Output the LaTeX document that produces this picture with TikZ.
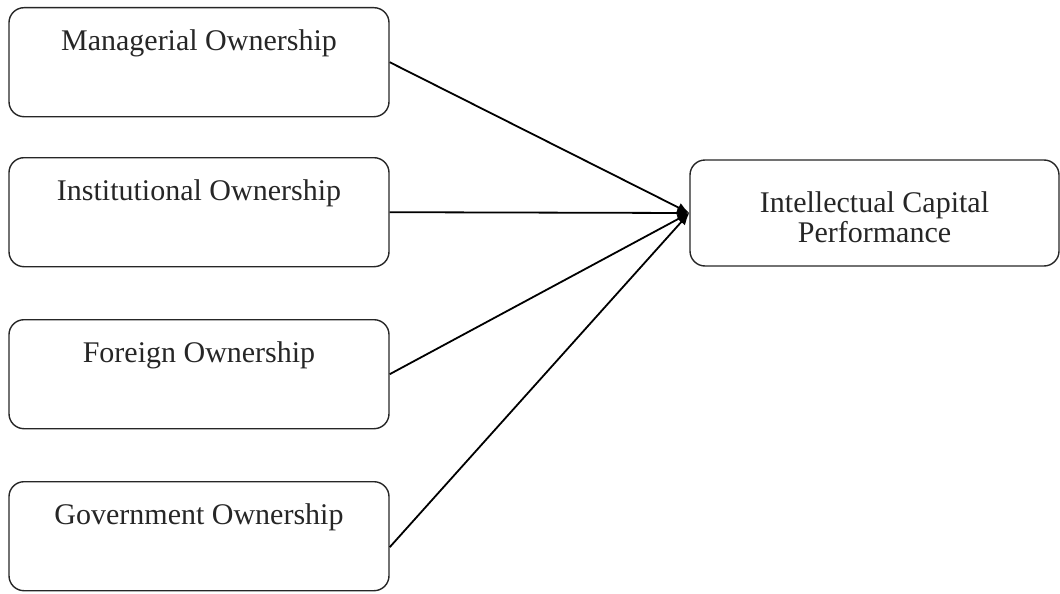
\documentclass[tikz,border=0pt]{standalone}
\usepackage{fontspec}
\setmainfont{Liberation Serif}
\usetikzlibrary{arrows.meta, positioning}

\begin{document}
\begin{tikzpicture}[>=Latex, x=1pt, y=-1pt, font=\fontsize{30}{30}\selectfont,
          own/.style={rectangle, rounded corners=15pt, draw=black!85, line width=1.4pt, minimum width=380pt, inner sep=0pt, text height=43pt, text depth=66pt, anchor=north, text=black!85},
          dv/.style={rectangle, rounded corners=15pt, draw=black!85, line width=1.4pt, minimum width=369pt, minimum height=106pt, inner sep=0pt, align=center, text=black!85},
          ar/.style={-{Latex[length=12pt, width=10pt]}, line width=1.8pt}]
        \useasboundingbox (0,0) rectangle (1060,594);
        \foreach \nm/\ty/\txt in {mo/7/Managerial Ownership, io/157/Institutional Ownership, fo/319/Foreign Ownership, go/481/Government Ownership}{ \node[own] (\nm) at (199,\ty) {\txt}; }
        \node[dv] (icp) at (874.5,213) {\rule{0pt}{29pt}Intellectual Capital\\Performance};
        \draw[ar] (mo.east) -- (icp.west); \draw[ar] (io.east) -- (icp.west);
        \draw[ar] (fo.east) -- (icp.west); \draw[ar] ([yshift=-11pt]go.east) -- (icp.west);
      \end{tikzpicture}
\end{document}
